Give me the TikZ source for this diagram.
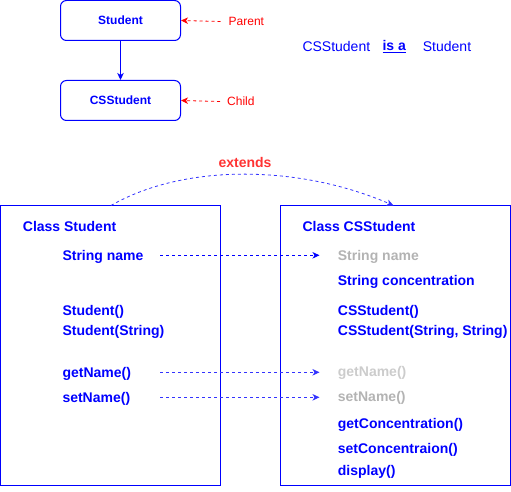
\documentclass[tikz,border=0pt]{standalone}
\usepackage{fontspec}
\setmainfont{Liberation Sans}
\usetikzlibrary{arrows.meta}
\definecolor{dblue}{HTML}{0000FF}
\definecolor{lblue}{HTML}{3333FF}
\definecolor{dred}{HTML}{FF0000}
\definecolor{lred}{HTML}{FF3333}
\definecolor{gray1}{HTML}{B3B3B3}
\definecolor{gray2}{HTML}{CCCCCC}
\tikzset{
  topbox/.style={draw=dblue, line width=1pt, rounded corners=6pt, minimum width=120pt, minimum height=40pt, inner sep=0pt, text=dblue, font=\fontsize{12}{14}\selectfont\bfseries},
  classbox/.style={draw=dblue, line width=1pt, inner sep=0pt},
  lbl/.style={anchor=west, inner sep=0pt, yshift=-1pt, font=\fontsize{12}{14}\selectfont, text=dred},
  big/.style={anchor=west, inner sep=0pt, yshift=-1.5pt, font=\fontsize{14}{16}\selectfont},
  member/.style={anchor=west, inner sep=0pt, yshift=-1.5pt, font=\fontsize{14}{16}\selectfont\bfseries, text=dblue},
  tip/.style={-{Stealth[length=7pt,width=6.5pt,inset=2pt]}},
  dsh/.style={dash pattern=on 3pt off 3pt, line width=1pt},
}
\begin{document}
\begin{tikzpicture}[x=1pt,y=-1pt]
\useasboundingbox (0,0) rectangle (511,492);
% top part
\node[topbox] (st) at (120.5,20.5) {Student};
\node[topbox] (cs) at (120.5,100.5) {CSStudent};
\draw[dblue, line width=1pt, tip] (st.south) -- (cs.north);
\node[lbl] (par) at (228.5,20.5) {Parent};
\node[lbl] (chi) at (227,100.5) {Child};
\draw[dred, dsh, line width=0.8pt, tip] ([xshift=-8pt]par.west) -- (st.east);
\draw[dred, dsh, line width=0.8pt, tip] ([xshift=-7pt]chi.west) -- (cs.east);
\node[big, text=dblue] (isa1) at (302.3,45) {CSStudent};
\node[big, text=dblue, font=\fontsize{14}{16}\selectfont\bfseries] (isa2) at (382.3,45) {\underline{is a}};
\node[big, text=dblue] (isa3) at (422.7,45) {Student};
% class boxes
\node[classbox, minimum width=220pt, minimum height=280pt] (lbox) at (110.5,345.5) {};
\node[classbox, minimum width=229.5pt, minimum height=280pt] (rbox) at (395.5,345.5) {};
% extends
\node[inner sep=0pt, yshift=-1pt, font=\fontsize{14}{16}\selectfont\bfseries, text=lred] (ext) at (245,161) {extends};
\coordinate (es) at (111,205.5);
\coordinate (ee) at (393.5,205.5);
\draw[lblue, dsh, line width=0.8pt, tip] (es) .. controls (185,163) and (300,165) .. (ee);
% left members
\node[member] (lt) at (22.7,225) {Class Student};
\node[member] (l1) at (62.3,255.3) {String name};
\node[member] (l2) at (62.3,310.7) {Student()};
\node[member] (l3) at (62.3,330.3) {Student(String)};
\node[member] (l4) at (62.3,372.3) {getName()};
\node[member] (l5) at (62.3,397.3) {setName()};
% right members
\node[member] (rt) at (302.3,225) {Class CSStudent};
\node[member, text=gray1] (r1) at (337.7,255.3) {String name};
\node[member] (r2) at (337.7,280) {String concentration};
\node[member] (r3) at (337.7,310.7) {CSStudent()};
\node[member] (r4) at (337.7,330.3) {CSStudent(String, String)};
\node[member, text=gray2] (r5) at (337.7,371.8) {getName()};
\node[member, text=gray1] (r6) at (337.7,396.8) {setName()};
\node[member] (r7) at (337.7,423.3) {getConcentration()};
\node[member] (r8) at (337.7,448.3) {setConcentraion()};
\node[member] (r9) at (337.7,470) {display()};
% inheritance arrows
\coordinate (a1) at (160,255.3);
\coordinate (a2) at (160,372.3);
\coordinate (a3) at (160,397.3);
\coordinate (b1) at (319.5,255.3);
\coordinate (b2) at (319.5,372.3);
\coordinate (b3) at (319.5,397.3);
\draw[dblue, dsh, line width=1pt, tip] (a1) -- (b1);
\draw[lblue, dsh, line width=1pt, tip] (a2) -- (b2);
\draw[lblue, dsh, line width=1pt, tip] (a3) -- (b3);
\end{tikzpicture}
\end{document}
